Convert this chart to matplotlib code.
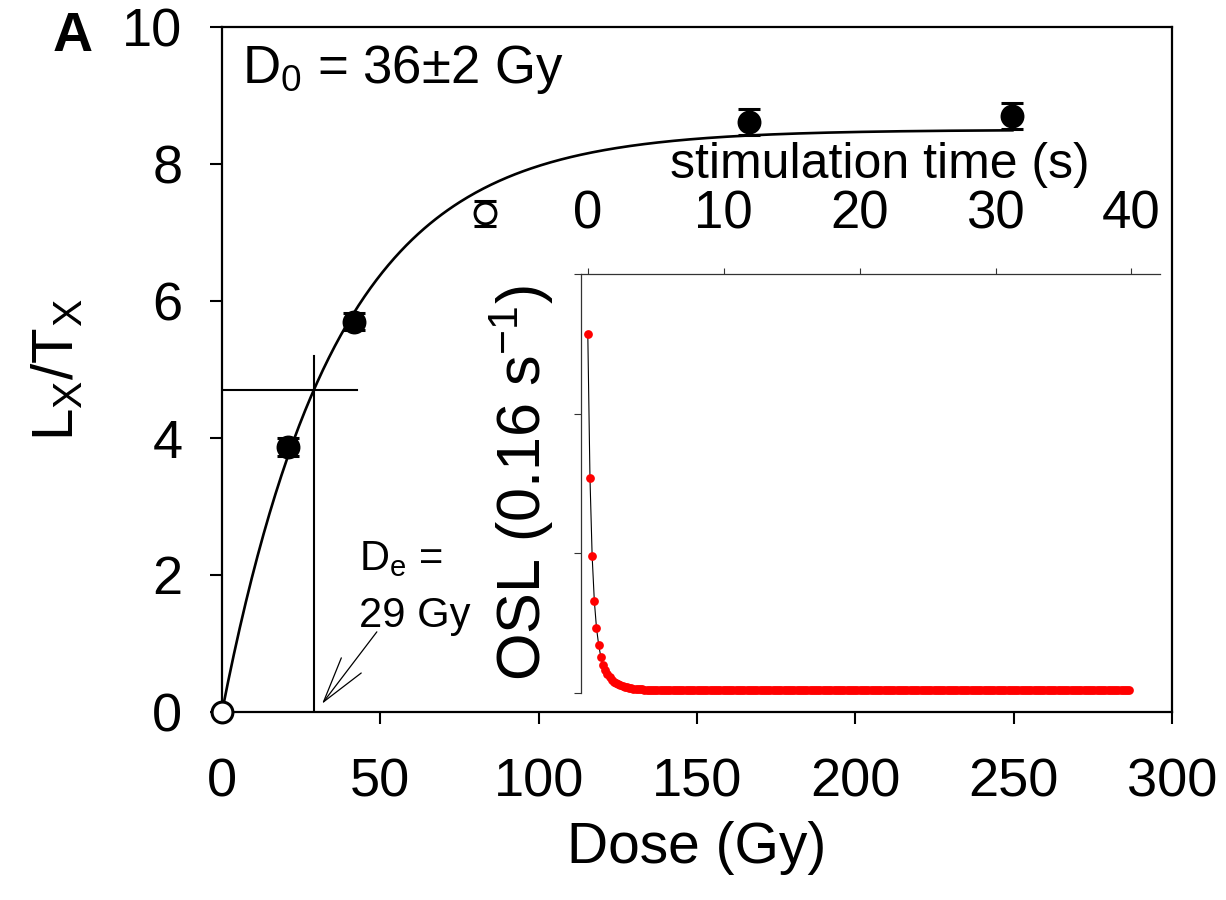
"""Dose-response curve (Lx/Tx vs dose) with the natural OSL decay as an inset."""

import matplotlib

matplotlib.use("Agg")
import matplotlib.pyplot as plt  # noqa: E402
import numpy as np               # noqa: E402

plt.rcParams["font.family"] = ["Liberation Sans", "DejaVu Sans"]
plt.rcParams["mathtext.fontset"] = "custom"
plt.rcParams["mathtext.rm"] = "Liberation Sans"
plt.rcParams["mathtext.it"] = "Liberation Sans:italic"
plt.rcParams["mathtext.bf"] = "Liberation Sans:bold"

# regenerative dose points
dose_gy = [0.0, 20.8, 41.6, 83.2, 166.4, 249.6]
lx_tx = [0.0, 3.87, 5.70, 7.28, 8.62, 8.70]
lx_tx_err = [0.0, 0.13, 0.13, 0.18, 0.19, 0.19]
open_symbol = [True, False, False, True, False, False]  # zero dose, recycling

# single saturating exponential
D0_GY = 36.0
SAT_LEVEL = 8.50
DE_GY = 29.0

# natural OSL shine-down, 0.16 s channels
CHANNEL_S = 0.16
osl_decay = [
    2.57, 1.54, 0.98, 0.66, 0.465, 0.345, 0.257, 0.200, 0.165, 0.135,
    0.112, 0.095, 0.082, 0.072, 0.063, 0.056, 0.050, 0.045, 0.041, 0.037,
    0.034, 0.032, 0.030, 0.028, 0.027, 0.026, 0.025, 0.024, 0.023, 0.023,
    0.022,
]
osl_plateau = [
    0.021, 0.021, 0.021, 0.021, 0.021, 0.021, 0.021, 0.021, 0.021, 0.021,
    0.021, 0.021, 0.021, 0.021, 0.021, 0.021, 0.021, 0.021, 0.021, 0.020,
    0.020, 0.020, 0.020, 0.020, 0.020, 0.020, 0.020, 0.020, 0.020, 0.020,
    0.020, 0.020, 0.020, 0.020, 0.020, 0.020, 0.020, 0.020, 0.020, 0.020,
    0.020, 0.020, 0.020, 0.020, 0.020, 0.020, 0.020, 0.020, 0.020, 0.020,
    0.020, 0.020, 0.020, 0.020, 0.020, 0.020, 0.020, 0.020, 0.020, 0.020,
    0.020, 0.020, 0.020, 0.020, 0.020, 0.020, 0.020, 0.020, 0.020, 0.020,
    0.020, 0.020, 0.020, 0.020, 0.020, 0.020, 0.020, 0.020, 0.020, 0.020,
    0.020, 0.020, 0.020, 0.020, 0.020, 0.020, 0.020, 0.020, 0.020, 0.020,
    0.020, 0.020, 0.020, 0.020, 0.020, 0.020, 0.020, 0.020, 0.020, 0.020,
    0.020, 0.020, 0.020, 0.020, 0.020, 0.020, 0.020, 0.020, 0.020, 0.020,
    0.020, 0.020, 0.020, 0.020, 0.020, 0.020, 0.020, 0.020, 0.020, 0.020,
    0.020, 0.020, 0.020, 0.020, 0.020, 0.020, 0.020, 0.020, 0.020, 0.020,
    0.020, 0.020, 0.020, 0.020, 0.020, 0.020, 0.020, 0.020, 0.020, 0.020,
    0.020, 0.020, 0.020, 0.020, 0.020, 0.020, 0.020, 0.020, 0.020, 0.020,
    0.020, 0.020, 0.020, 0.020, 0.020, 0.020, 0.020, 0.020, 0.020, 0.020,
    0.020, 0.020, 0.020, 0.020, 0.020, 0.020, 0.020, 0.020, 0.020, 0.020,
    0.020, 0.020, 0.020, 0.020, 0.020, 0.020, 0.020, 0.020, 0.020, 0.020,
    0.020, 0.020, 0.020, 0.020, 0.020, 0.020, 0.020, 0.020, 0.020, 0.020,
    0.020, 0.020, 0.020, 0.020, 0.020, 0.020, 0.020, 0.020, 0.020, 0.020,
    0.020, 0.020, 0.020, 0.020, 0.020, 0.020, 0.020, 0.020, 0.020, 0.020,
    0.020, 0.020, 0.020, 0.020, 0.020, 0.020, 0.020, 0.020, 0.020,
]

W, H = 1226, 900


def px_rect(left, top, right, bottom):
    """Axes rectangle from pixel edges (origin top-left)."""
    return [left / W, 1 - bottom / H, (right - left) / W, (bottom - top) / H]


fig = plt.figure(figsize=(W / 100, H / 100), dpi=100)

# ---- main dose-response panel ----
ax = fig.add_axes(px_rect(222, 27, 1172, 712))

d = np.linspace(0, max(dose_gy), 400)
ax.plot(d, SAT_LEVEL * (1 - np.exp(-d / D0_GY)), color="k", lw=1.9, zorder=2)

ln_tn = SAT_LEVEL * (1 - np.exp(-DE_GY / D0_GY))
ax.plot([0, DE_GY + 13.5], [ln_tn, ln_tn], color="k", lw=1.5, zorder=2)
ax.plot([DE_GY, DE_GY], [0, ln_tn + 0.5], color="k", lw=1.5, zorder=2)

for x, y, e, is_open in zip(dose_gy, lx_tx, lx_tx_err, open_symbol):
    face = "white" if is_open else "k"
    ax.errorbar(x, y, yerr=e if e > 0 else None, fmt="o", ms=15,
                mfc=face, mec="k", mew=2.2, ecolor="k", elinewidth=1.5,
                capsize=8, capthick=2.4, clip_on=False, zorder=4)

ax.set_xlim(0, 300)
ax.set_ylim(0, 10)
ax.set_xticks(range(0, 301, 50))
ax.set_yticks(range(0, 11, 2))
ax.tick_params(axis="both", direction="out", length=8.5, width=1.5,
               labelsize=39)
ax.tick_params(axis="x", pad=24)
ax.tick_params(axis="y", pad=20)
for sp in ax.spines.values():
    sp.set_linewidth(1.6)

ax.text(43.3, 2.07, r"D$_\mathrm{e}$ =", fontsize=30, va="baseline")
ax.text(43.3, 1.24, "29 Gy", fontsize=30, va="baseline")
ax.annotate("", xy=(31.6, 0.12), xytext=(48.9, 1.17),
            arrowprops=dict(arrowstyle="->,head_length=3.3,head_width=0.9",
                            lw=0.9, color="k", shrinkA=0, shrinkB=0),
            annotation_clip=False)

fig.text(242 / W, 1 - 83 / H, r"D$_\mathrm{0}$ = 36±2 Gy", fontsize=38,
         va="baseline")
fig.text(697 / W, 1 - 848 / H, "Dose (Gy)", fontsize=41,
         ha="center", va="center")
fig.text(58 / W, 1 - 370 / H, r"$\mathrm{L_X/T_X}$", fontsize=42,
         rotation=90, ha="center", va="center")
fig.text(73 / W, 1 - 37 / H, "A", fontsize=40, weight="bold",
         ha="center", va="center")

# ---- inset: OSL decay ----
axi = fig.add_axes(px_rect(581, 274, 1160, 693))
axi.patch.set_alpha(0)

osl = osl_decay + osl_plateau
t = np.arange(len(osl)) * CHANNEL_S
axi.plot(t, osl, color="k", lw=0.8, zorder=1)
axi.plot(t, osl, "o", color="#ff0000", ms=6.3, mew=0, clip_on=False,
         zorder=2)

axi.set_xlim(-0.5, 42.1)
axi.set_ylim(0, 3)
axi.spines["right"].set_visible(False)
axi.spines["bottom"].set_visible(False)
for side in ("top", "left"):
    axi.spines[side].set_linewidth(0.9)
    axi.spines[side].set_color("#333333")
axi.xaxis.tick_top()
axi.set_xticks([0, 10, 20, 30, 40])
axi.set_yticks([0, 1, 2, 3])
axi.set_yticklabels([])
axi.tick_params(axis="x", direction="out", length=4.5, width=0.8,
                labelsize=38, pad=20, color="#333333")
axi.tick_params(axis="y", direction="out", length=5, width=0.8,
                color="#333333")

fig.text(880 / W, 1 - 165 / H, "stimulation time (s)", fontsize=36,
         ha="center", va="center")
fig.text(522 / W, 1 - 483 / H, r"OSL (0.16 s$^{-1}$)", fontsize=44,
         rotation=90, ha="center", va="center")

fig.savefig("out.png", dpi=100)
plt.close(fig)
